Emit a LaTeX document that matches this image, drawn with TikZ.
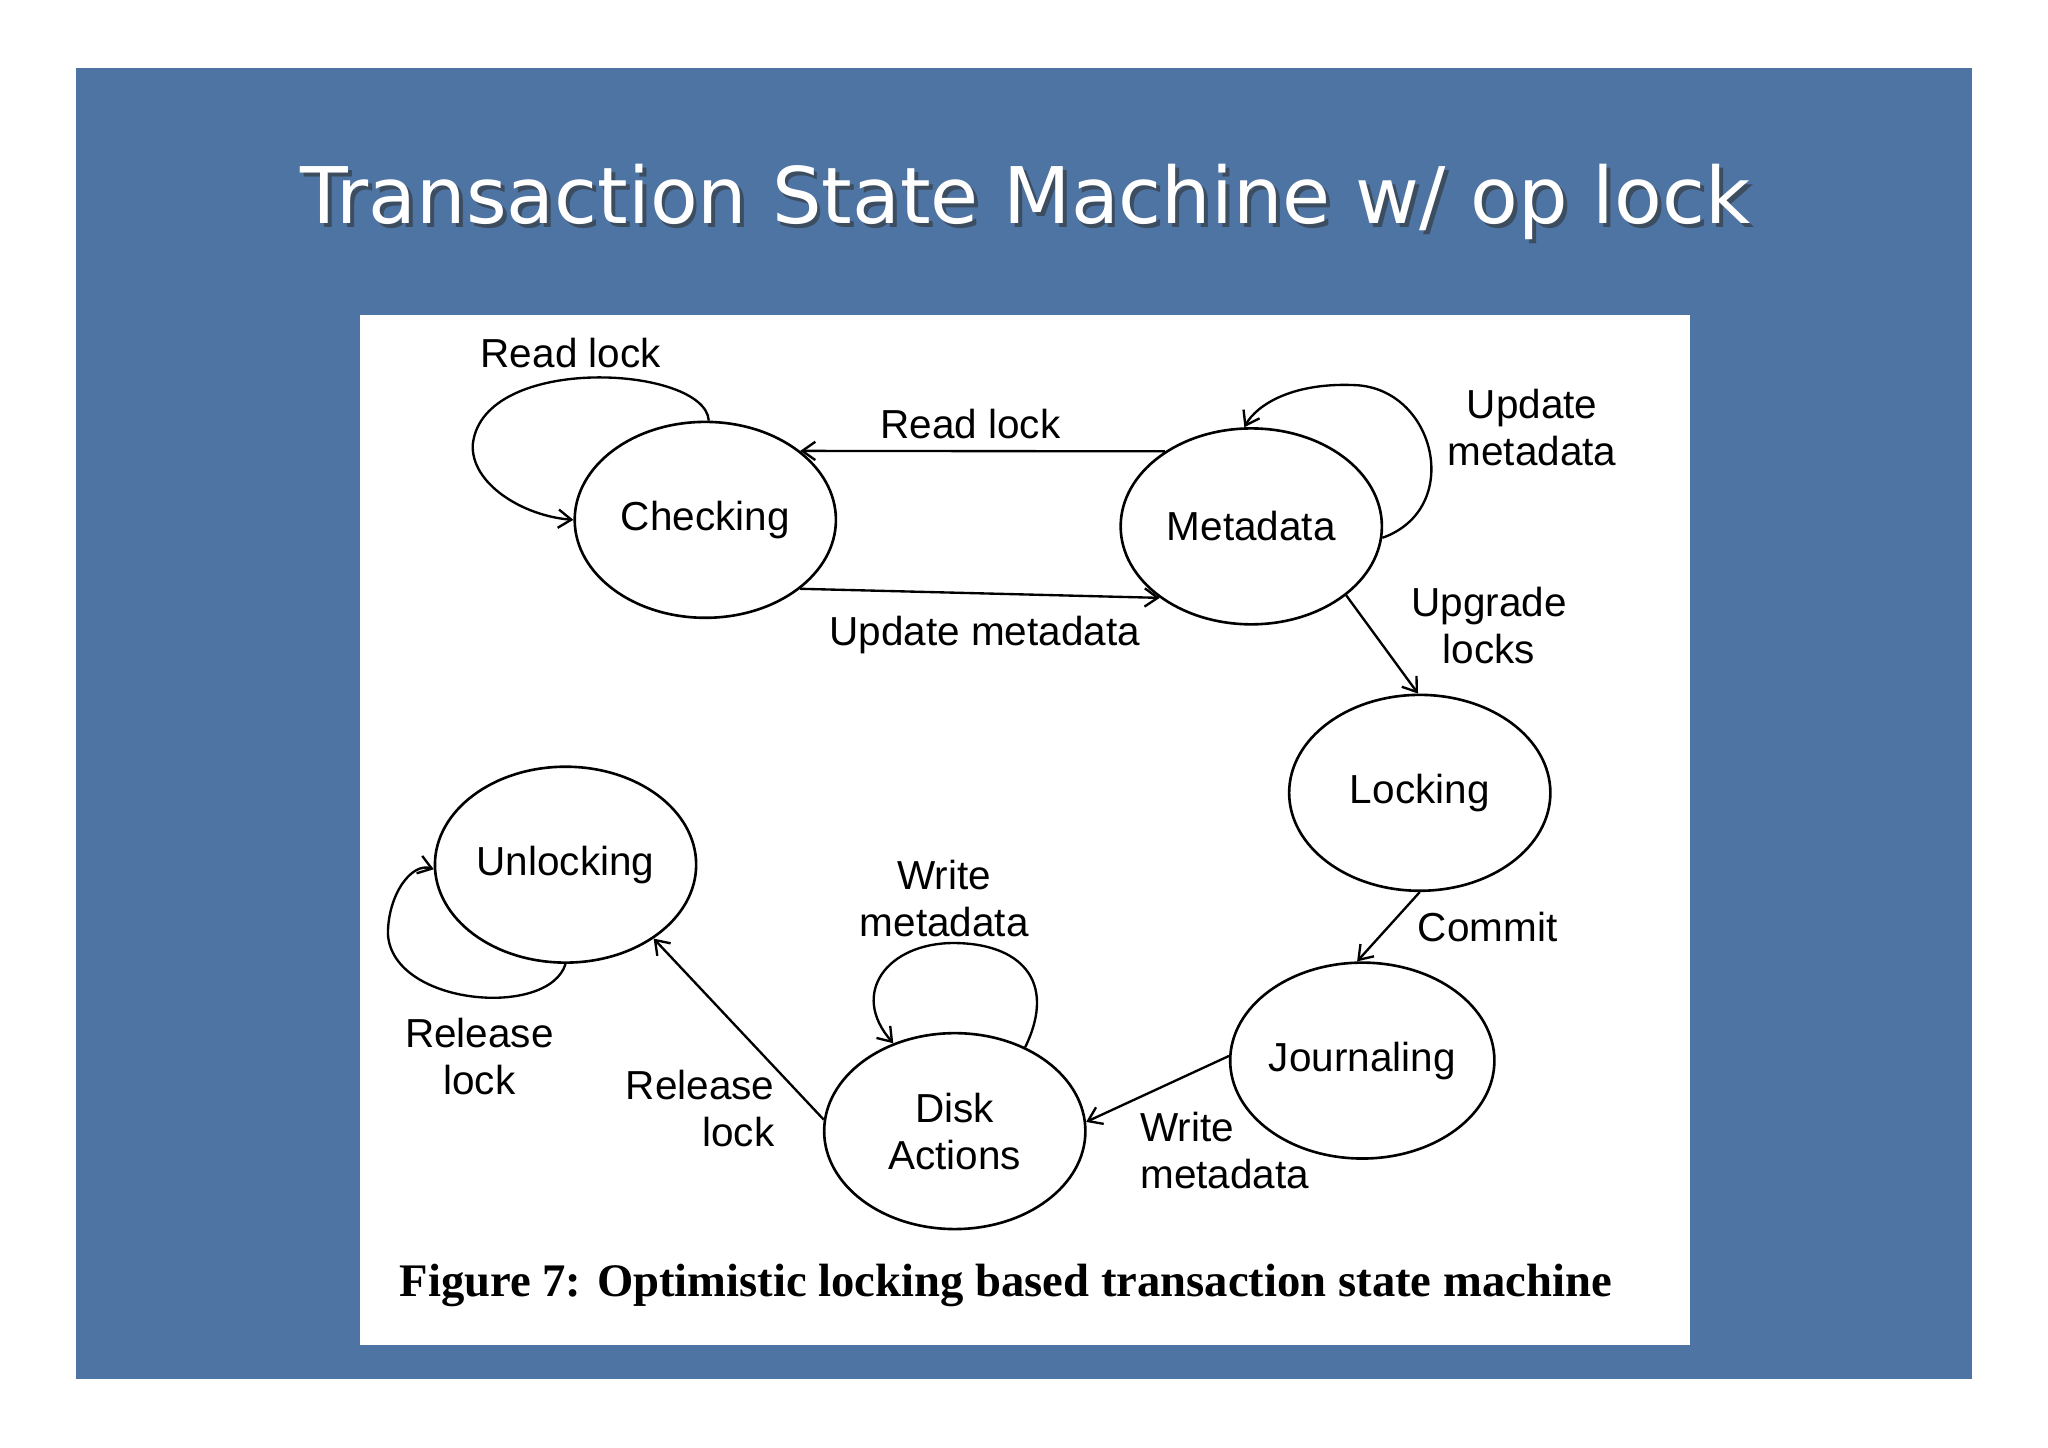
\documentclass[tikz,border=0pt]{standalone}
\usepackage{fontspec}
\setmainfont{Liberation Sans}
\newfontfamily\titlefont{DejaVu Sans}
\newfontfamily\capfont{Liberation Serif}
\usetikzlibrary{arrows.meta,shapes.geometric}
\definecolor{slide}{HTML}{4E74A4}
\begin{document}
\begin{tikzpicture}[x=0.5pt,y=-0.5pt,
  st/.style={draw,line width=1pt,ellipse,inner sep=0pt,minimum width=100pt,minimum height=75pt,font=\fontsize{15.5}{18}\selectfont,align=center},
  lbl/.style={font=\fontsize{15.5}{18}\selectfont,align=center},
  ar/.style={draw,line width=0.9pt,-{Straight Barb[length=5pt,width=7pt]}}]
\useasboundingbox (0,0) rectangle (1568,1108);
\fill[white] (0,0) rectangle (1568,1108);
\fill[slide] (58,52) rectangle (1510,1056);
\fill[white] (276,241) rectangle (1294,1030);
\node[text=black!80,opacity=0.6] (tsh) at (788,158) {\titlefont\resizebox{555pt}{!}{Transaction State Machine w/ op lock}};
\node[text=white] (title) at (785,155) {\titlefont\resizebox{555pt}{!}{Transaction State Machine w/ op lock}};
\node[st] (chk) at (540,398) {Checking};
\node[st] (met) at (958,403) {Metadata};
\node[st] (lck) at (1087,607) {Locking};
\node[st] (jrn) at (1043,812) {Journaling};
\node[st] (dsk) at (731,866) {Disk\\Actions};
\node[st] (unl) at (433,662) {Unlocking};
% edges
\draw[ar] (met.139) -- (chk.36);
\node[lbl] (e1) at (743,325) {Read lock};
\draw[ar] (chk.-36) -- (met.-142);
\node[lbl] (e2) at (754,486) {Update metadata};
\draw[ar] (met.-36) -- (lck.91);
\node[lbl] (e3) at (1140,479) {Upgrade\\locks};
\draw[ar] (lck.-90) -- (jrn.93);
\node[lbl] (e4) at (1139,710) {Commit};
\draw[ar] (jrn.178) -- (dsk.4);
\node[lbl,align=left,anchor=west] (e5) at (866,881) {Write\\metadata};
\draw[ar] (dsk.175) -- (unl.-40);
\node[lbl,align=right,anchor=east] (e6) at (600,849) {Release\\lock};
% loops
\draw[ar] (chk.88) .. controls (540,280) and (370,270) .. (362,340) .. controls (360,370) and (400,395) .. (chk.180);
\node[lbl] (l1) at (437,270) {Read lock};
\draw[ar] (met.-5) .. controls (1120,390) and (1100,300) .. (1040,295) .. controls (990,292) and (962,310) .. (met.94);
\node[lbl] (l2) at (1173,327) {Update\\metadata};
\draw[ar] (unl.-90) .. controls (420,780) and (300,770) .. (297,715) .. controls (297,685) and (315,660) .. (unl.182);
\node[lbl] (l3) at (367,809) {Release\\lock};
\draw[ar] (dsk.50) .. controls (810,750) and (780,722) .. (730,722) .. controls (680,722) and (650,760) .. (dsk.125);
\node[lbl] (l4) at (723,688) {Write\\metadata};
\node (cap) at (770,984) {\capfont\bfseries\resizebox{464pt}{!}{Figure 7: Optimistic locking based transaction state machine}};
\end{tikzpicture}
\end{document}
